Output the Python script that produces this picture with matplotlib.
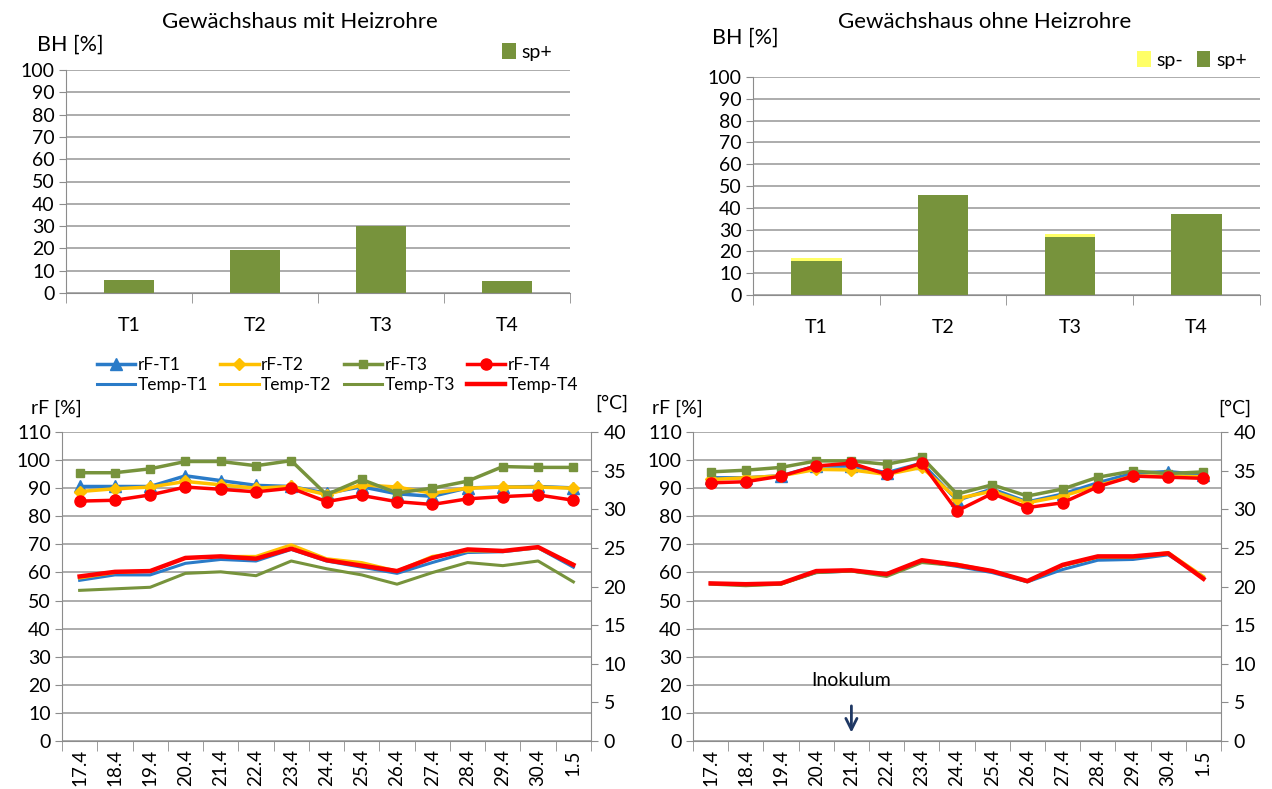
# -*- coding: utf-8 -*-
"""
Befallshäufigkeit und Klima in zwei Gewächshäusern
"""

import matplotlib
matplotlib.use('Agg')
import matplotlib.pyplot as plt

plt.rcParams['font.family'] = ['Lato', 'DejaVu Sans']

# Befallshäufigkeit (BH) je Variante
varianten = ['T1', 'T2', 'T3', 'T4']
bh_mit_sp_plus = [5.8, 19.4, 30.2, 5.5]
bh_ohne_sp_plus = [15.7, 45.8, 26.7, 37.0]
bh_ohne_sp_minus = [1.1, 0.0, 1.5, 0.0]

# Datum der Messungen
tage = ['17.4', '18.4', '19.4', '20.4', '21.4', '22.4', '23.4', '24.4',
        '25.4', '26.4', '27.4', '28.4', '29.4', '30.4', '1.5']

# Gewächshaus mit Heizrohre: relative Feuchte [%]
mit_rf_t1 = [90.6, 90.6, 90.6, 94.4, 92.7, 91.0, 90.6, 88.2, 90.5, 88.0, 87.1, 90.1, 90.4, 90.6, 90.1]
mit_rf_t2 = [88.8, 89.8, 90.4, 92.4, 91.2, 90.0, 90.6, 87.7, 91.2, 90.4, 88.2, 90.0, 90.4, 90.4, 90.0]
mit_rf_t3 = [95.5, 95.5, 96.9, 99.5, 99.5, 98.0, 99.8, 87.7, 93.1, 88.3, 90.0, 92.5, 97.7, 97.4, 97.4]
mit_rf_t4 = [85.4, 85.7, 87.6, 90.4, 89.6, 88.7, 90.0, 85.2, 87.4, 85.2, 84.2, 86.2, 87.0, 87.6, 85.7]
# Gewächshaus mit Heizrohre: Temperatur [°C]
mit_temp_t1 = [20.8, 21.5, 21.5, 23.0, 23.5, 23.3, 24.8, 23.3, 22.5, 21.7, 23.1, 24.4, 24.5, 25.0, 22.5]
mit_temp_t2 = [21.1, 21.8, 22.0, 23.7, 23.9, 23.9, 25.4, 23.6, 23.1, 22.0, 23.9, 24.6, 24.6, 25.0, 22.9]
mit_temp_t3 = [19.5, 19.7, 19.9, 21.7, 21.9, 21.4, 23.3, 22.3, 21.5, 20.3, 21.8, 23.1, 22.7, 23.3, 20.6]
mit_temp_t4 = [21.3, 21.9, 22.0, 23.7, 23.9, 23.6, 24.9, 23.4, 22.7, 22.0, 23.7, 24.8, 24.6, 25.1, 22.8]

# Gewächshaus ohne Heizrohre: relative Feuchte [%]
ohne_rf_t1 = [93.7, 93.7, 94.4, 97.9, 97.9, 95.5, 98.9, 85.7, 89.7, 85.1, 87.9, 91.9, 95.3, 95.9, 94.7]
ohne_rf_t2 = [93.1, 93.7, 94.4, 96.7, 96.5, 94.9, 97.4, 86.3, 88.9, 84.8, 87.2, 90.9, 94.3, 94.3, 94.1]
ohne_rf_t3 = [95.8, 96.4, 97.4, 99.7, 99.7, 98.5, 101.0, 87.9, 91.2, 87.2, 89.7, 93.9, 96.1, 95.2, 95.8]
ohne_rf_t4 = [91.9, 92.3, 94.3, 97.9, 98.9, 94.9, 98.9, 81.9, 88.1, 83.1, 84.8, 90.5, 94.3, 93.9, 93.5]
# Gewächshaus ohne Heizrohre: Temperatur [°C]
ohne_temp_t1 = [20.4, 20.3, 20.4, 21.8, 22.0, 21.5, 23.3, 22.6, 21.8, 20.6, 22.2, 23.4, 23.5, 24.1, 21.2]
ohne_temp_t2 = [20.4, 20.2, 20.3, 21.9, 22.0, 21.5, 23.3, 22.9, 22.0, 20.7, 22.7, 23.8, 23.8, 24.4, 21.3]
ohne_temp_t3 = [20.3, 20.1, 20.3, 21.8, 22.0, 21.3, 23.1, 22.7, 22.0, 20.6, 22.7, 23.8, 23.8, 24.2, 21.1]
ohne_temp_t4 = [20.4, 20.3, 20.4, 22.0, 22.1, 21.6, 23.4, 22.8, 22.0, 20.7, 22.8, 23.9, 23.9, 24.3, 21.0]

BLAU = '#2A7BC8'
GELB = '#FFC000'
GRUEN = '#77933C'
ROT = '#FF0000'
HELLGELB = '#FFFF66'
GITTER = '#A6A6A6'
ACHSE = '#8C8C8C'

W, H = 1272, 789
SCHRIFT = 14


def achse(l, r, t, b):
    """Axes aus Pixelkoordinaten"""
    return fig.add_axes([l / W, 1 - b / H, (r - l) / W, (b - t) / H])


def grundstil(ax, n):
    for s in ['top', 'right']:
        ax.spines[s].set_visible(False)
    for s in ['left', 'bottom']:
        ax.spines[s].set_color(ACHSE)
    ax.grid(axis='y', color=GITTER, linewidth=1.3)
    ax.set_axisbelow(True)
    ax.set_xlim(-0.5, n - 0.5)
    ax.set_xticks(range(n))
    ax.set_xticks([i - 0.5 for i in range(n + 1)], minor=True)
    ax.tick_params(axis='x', which='major', length=0)
    ax.tick_params(axis='x', which='minor', length=7, color=ACHSE)
    ax.tick_params(axis='y', length=5, color=ACHSE, labelsize=SCHRIFT, pad=3)


def balken(ax, sp_plus, sp_minus=None):
    grundstil(ax, len(varianten))
    ax.bar(varianten, sp_plus, width=0.4, color=GRUEN, label='sp+')
    if sp_minus is not None:
        ax.bar(varianten, sp_minus, width=0.4, bottom=sp_plus, color=HELLGELB, label='sp-')
    ax.set_ylim(0, 100)
    ax.set_yticks(range(0, 101, 10))
    ax.tick_params(axis='x', labelsize=SCHRIFT, pad=17)


def klima(ax, rf, temp, mit_legende=False):
    grundstil(ax, len(tage))
    x = range(len(tage))
    ax.plot(x, rf[0], color=BLAU, lw=2.5, marker='^', ms=8, label='rF-T1')
    ax.plot(x, rf[1], color=GELB, lw=2.5, marker='D', ms=6, label='rF-T2')
    ax.plot(x, rf[2], color=GRUEN, lw=2.5, marker='s', ms=6, label='rF-T3')
    ax.plot(x, rf[3], color=ROT, lw=2.5, marker='o', ms=8, label='rF-T4')
    ax.set_ylim(0, 110)
    ax.set_yticks(range(0, 111, 10))
    ax.set_xticklabels(tage, rotation=90, fontsize=13.5)
    ax.tick_params(axis='x', pad=6)

    ax2 = ax.twinx()
    ax2.plot(x, temp[0], color=BLAU, lw=2.2, label='Temp-T1')
    ax2.plot(x, temp[1], color=GELB, lw=2.2, label='Temp-T2')
    ax2.plot(x, temp[2], color=GRUEN, lw=2.2, label='Temp-T3')
    ax2.plot(x, temp[3], color=ROT, lw=3.2, label='Temp-T4')
    ax2.set_ylim(0, 40)
    ax2.set_yticks(range(0, 41, 5))
    for s in ['top', 'left', 'bottom']:
        ax2.spines[s].set_visible(False)
    ax2.spines['right'].set_color(ACHSE)
    ax2.tick_params(axis='y', length=5, color=ACHSE, labelsize=SCHRIFT, pad=4)

    if mit_legende:
        h1, l1 = ax.get_legend_handles_labels()
        h2, l2 = ax2.get_legend_handles_labels()
        handles, labels = [], []
        for i in range(4):
            handles += [h1[i], h2[i]]
            labels += [l1[i], l2[i]]
        fig.legend(handles, labels, ncol=4, frameon=False, fontsize=12.5,
                   loc='center left', bbox_to_anchor=(97 / W, 1 - 375 / H),
                   handlelength=2.2, handletextpad=0.15, columnspacing=0.7,
                   labelspacing=0.25, borderpad=0, borderaxespad=0)
    return ax2


fig = plt.figure(figsize=(W / 100, H / 100), dpi=100)

# oben links: mit Heizrohre
ax1 = achse(66, 570, 70, 293)
balken(ax1, bh_mit_sp_plus)
fig.text(300 / W, 1 - 22 / H, 'Gewächshaus mit Heizrohre', ha='center', va='center', fontsize=16)
fig.text(70 / W, 1 - 45 / H, 'BH [%]', ha='center', va='center', fontsize=15.5)
ax1.legend(loc='center left', bbox_to_anchor=(502 / W, 1 - 52 / H), bbox_transform=fig.transFigure,
           frameon=False, fontsize=SCHRIFT, handlelength=0.7, handleheight=0.9, handletextpad=0.3,
           borderpad=0, borderaxespad=0)

# oben rechts: ohne Heizrohre
ax3 = achse(753, 1260, 77, 295)
balken(ax3, bh_ohne_sp_plus, bh_ohne_sp_minus)
fig.text(985 / W, 1 - 22 / H, 'Gewächshaus ohne Heizrohre', ha='center', va='center', fontsize=16)
fig.text(745 / W, 1 - 38 / H, 'BH [%]', ha='center', va='center', fontsize=15.5)
h, l = ax3.get_legend_handles_labels()
ax3.legend(h[::-1], l[::-1], ncol=2, loc='center left', bbox_to_anchor=(1137 / W, 1 - 60 / H),
           bbox_transform=fig.transFigure, frameon=False, fontsize=SCHRIFT, handlelength=0.7,
           handleheight=0.9, handletextpad=0.3, columnspacing=0.7, borderpad=0, borderaxespad=0)

# unten links: Klima mit Heizrohre
ax5 = achse(62, 591, 432, 741)
klima(ax5, [mit_rf_t1, mit_rf_t2, mit_rf_t3, mit_rf_t4],
      [mit_temp_t1, mit_temp_t2, mit_temp_t3, mit_temp_t4], mit_legende=True)
fig.text(56 / W, 1 - 408 / H, 'rF [%]', ha='center', va='center', fontsize=SCHRIFT)
fig.text(612 / W, 1 - 403 / H, '[°C]', ha='center', va='center', fontsize=SCHRIFT)

# unten rechts: Klima ohne Heizrohre
ax7 = achse(693, 1221, 432, 741)
klima(ax7, [ohne_rf_t1, ohne_rf_t2, ohne_rf_t3, ohne_rf_t4],
      [ohne_temp_t1, ohne_temp_t2, ohne_temp_t3, ohne_temp_t4])
fig.text(677 / W, 1 - 408 / H, 'rF [%]', ha='center', va='center', fontsize=SCHRIFT)
fig.text(1235 / W, 1 - 408 / H, '[°C]', ha='center', va='center', fontsize=SCHRIFT)

# Zeitpunkt der Inokulation
ax7.annotate('', xy=(tage.index('21.4'), 2), xytext=(tage.index('21.4'), 13.5),
             arrowprops=dict(arrowstyle='->', color='#1F3864', lw=2, mutation_scale=20))
ax7.text(tage.index('21.4'), 21.5, 'Inokulum', ha='center', va='center', fontsize=SCHRIFT)

fig.savefig('out.png', dpi=100)
